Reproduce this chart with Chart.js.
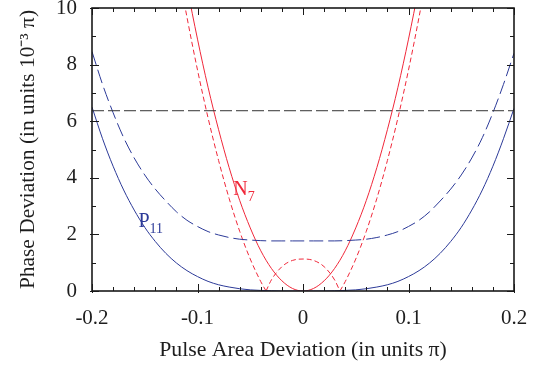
<!DOCTYPE html>
<html>
<head>
<meta charset="utf-8">
<script src="https://cdn.jsdelivr.net/npm/chart.js@4"></script>
<style>
  html, body { margin: 0; padding: 0; background: #fff; }
  #wrap { width: 545px; height: 369px; }
</style>
</head>
<body>
<div id="wrap"><canvas id="phaseChart" width="545" height="369"></canvas></div>
<script>
// ── Data ──
const xGrid = [-0.20, -0.19, -0.18, -0.17, -0.16, -0.15, -0.14, -0.13, -0.12, -0.11, -0.10,
  -0.09, -0.08, -0.07, -0.06, -0.05, -0.04, -0.03, -0.02, -0.01, 0,
  0.01, 0.02, 0.03, 0.04, 0.05, 0.06, 0.07, 0.08, 0.09, 0.10,
  0.11, 0.12, 0.13, 0.14, 0.15, 0.16, 0.17, 0.18, 0.19, 0.20];

// P11 (blue, solid)
const p11Solid = [6.5, 5.38, 4.41, 3.57, 2.86, 2.25, 1.75, 1.33, 0.99, 0.72, 0.51,
  0.34, 0.22, 0.14, 0.08, 0.04, 0.02, 0.01, 0, 0, 0,
  0, 0, 0.01, 0.02, 0.04, 0.08, 0.14, 0.22, 0.34, 0.51,
  0.72, 0.99, 1.33, 1.75, 2.25, 2.86, 3.57, 4.41, 5.38, 6.45];

// blue, dashed
const p11Dashed = [8.46, 7.3, 6.3, 5.42, 4.7, 4.1, 3.6, 3.18, 2.8, 2.5, 2.28,
  2.1, 1.98, 1.89, 1.83, 1.80, 1.78, 1.77, 1.77, 1.77, 1.77,
  1.77, 1.77, 1.77, 1.78, 1.80, 1.83, 1.89, 1.98, 2.1, 2.28,
  2.5, 2.8, 3.18, 3.6, 4.1, 4.7, 5.42, 6.3, 7.3, 8.4];

// N7 (red, solid)
const n7Solid = [null, null, null, null, null, null, null, null, 12.8, 10.77, 8.9,
  7.2, 5.7, 4.36, 3.2, 2.23, 1.42, 0.8, 0.36, 0.09, 0,
  0.09, 0.36, 0.8, 1.42, 2.23, 3.2, 4.36, 5.7, 7.2, 8.9,
  10.77, 12.8, null, null, null, null, null, null, null, null];

// red, dashed: outer arms and central bump
const dashArmX = [0.035, 0.04, 0.05, 0.06, 0.07, 0.08, 0.09, 0.10, 0.11, 0.12];
const dashArmY = [0, 0.33, 1.13, 2.11, 3.27, 4.61, 6.12, 7.81, 9.68, 11.73];
const dashBumpX = [-0.035, -0.03, -0.02, -0.01, 0, 0.01, 0.02, 0.03, 0.035];
const dashBumpY = [0, 0.39, 0.86, 1.08, 1.13, 1.08, 0.86, 0.39, 0];

// black dashed reference level
const refX = [-0.2, 0.2];
const refY = [6.37, 6.37];

const xTicks = [-0.2, -0.1, 0, 0.1, 0.2];
const yTicks = [0, 2, 4, 6, 8, 10];

// ── Colors ──
const colors = {
  blue: '#2c3a98',
  red: '#f0283a',
  ref: '#333333',
  axis: '#1a1a1a',
  text: '#1e1e1e',
};

const FONT = "'Liberation Serif', 'Times New Roman', serif";

const pts = (xs, ys) => xs.map((x, i) => ({ x, y: ys[i] }));

// ── Frame, inward ticks and curve labels ──
const framePlugin = {
  id: 'frame',
  afterDraw(chart) {
    const { ctx, chartArea: a, scales: { x, y } } = chart;
    ctx.save();
    ctx.strokeStyle = colors.axis;
    ctx.lineWidth = 1;
    ctx.beginPath();
    for (let i = -10; i <= 10; i++) {
      const px = Math.round(x.getPixelForValue(i * 0.02)) + 0.5;
      const len = i % 5 === 0 ? 7 : 4;
      ctx.moveTo(px, a.bottom + (i % 5 === 0 ? 2 : 0)); ctx.lineTo(px, a.bottom - len);
      ctx.moveTo(px, a.top); ctx.lineTo(px, a.top + len);
    }
    for (let v = 0; v <= 10; v++) {
      const py = Math.round(y.getPixelForValue(v)) + 0.5;
      const len = v % 2 === 0 ? 7 : 4;
      ctx.moveTo(a.left - (v % 2 === 0 ? 2 : 0), py); ctx.lineTo(a.left + len, py);
      ctx.moveTo(a.right, py); ctx.lineTo(a.right - len, py);
    }
    ctx.stroke();

    ctx.lineWidth = 1.6;
    ctx.strokeRect(a.left, a.top, a.right - a.left, a.bottom - a.top);

    // curve labels with subscripts
    const label = (main, sub, xv, yv, color) => {
      const px = x.getPixelForValue(xv);
      const py = y.getPixelForValue(yv);
      ctx.fillStyle = color;
      ctx.textBaseline = 'alphabetic';
      ctx.textAlign = 'left';
      ctx.font = `20px ${FONT}`;
      ctx.fillText(main, px, py);
      const w = ctx.measureText(main).width;
      ctx.font = `14px ${FONT}`;
      ctx.fillText(sub, px + w, py + 6);
    };
    label('P', '11', -0.156, 2.25, colors.blue);
    label('N', '7', -0.066, 3.4, colors.red);
    ctx.restore();
  }
};

const lineStyle = { borderWidth: 1, pointRadius: 0, fill: false, cubicInterpolationMode: 'monotone' };

new Chart(document.getElementById('phaseChart'), {
  type: 'line',
  data: {
    datasets: [
      { ...lineStyle, data: pts(refX, refY), borderColor: colors.ref, borderDash: [12, 4], cubicInterpolationMode: 'default', tension: 0 },
      { ...lineStyle, data: pts(xGrid, p11Dashed), borderColor: colors.blue, borderDash: [14, 5] },
      { ...lineStyle, data: pts(xGrid, p11Solid), borderColor: colors.blue },
      { ...lineStyle, data: pts(xGrid, n7Solid), borderColor: colors.red },
      { ...lineStyle, data: pts(dashArmX.map(v => -v), dashArmY), borderColor: colors.red, borderDash: [5, 3] },
      { ...lineStyle, data: pts(dashBumpX, dashBumpY), borderColor: colors.red, borderDash: [5, 3] },
      { ...lineStyle, data: pts(dashArmX, dashArmY), borderColor: colors.red, borderDash: [5, 3] },
    ]
  },
  options: {
    responsive: false,
    animation: false,
    events: [],
    layout: { padding: { left: 0, right: 31, top: 8, bottom: 0 } },
    plugins: { legend: { display: false }, tooltip: { enabled: false } },
    scales: {
      x: {
        type: 'linear',
        min: -0.2,
        max: 0.2,
        grid: { display: false },
        border: { display: false },
        afterBuildTicks: (scale) => { scale.ticks = xTicks.map(v => ({ value: v })); },
        afterFit: (scale) => { scale.height = 78; scale.paddingLeft = 0; scale.paddingRight = 0; },
        ticks: {
          padding: 7,
          color: colors.text,
          font: { family: FONT, size: 21 },
          maxRotation: 0,
          callback: (v) => String(Number(v.toFixed(1))),
        },
        title: {
          display: true,
          text: 'Pulse Area Deviation (in units \u03c0)',
          color: colors.text,
          font: { family: FONT, size: 21.8 },
          padding: { top: 0, bottom: 6 },
        },
      },
      y: {
        type: 'linear',
        min: 0,
        max: 10,
        grid: { display: false },
        border: { display: false },
        afterBuildTicks: (scale) => { scale.ticks = yTicks.map(v => ({ value: v })); },
        afterFit: (scale) => { scale.width = 92; scale.paddingTop = 0; scale.paddingBottom = 0; },
        ticks: {
          padding: 7,
          color: colors.text,
          font: { family: FONT, size: 21 },
        },
        title: {
          display: true,
          text: 'Phase Deviation (in units 10\u207b\u00b3 \u03c0)',
          color: colors.text,
          font: { family: FONT, size: 21.4 },
          padding: { top: 16, bottom: 0 },
        },
      },
    },
  },
  plugins: [framePlugin],
});
</script>
</body>
</html>
